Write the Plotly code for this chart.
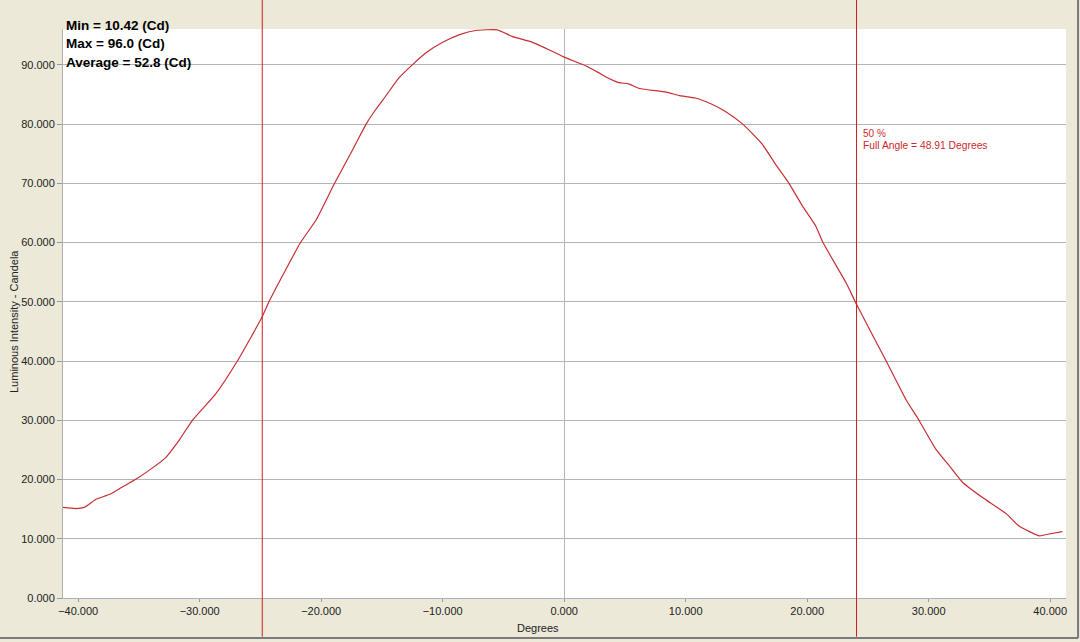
import plotly.graph_objects as go

# Data
degrees = [-41.3, -40.2, -39.5, -38.5, -37.4, -36.4, -35.3, -34.2, -32.8, -31.7,
           -30.6, -28.7, -26.9, -24.9, -24.3, -22.9, -21.7, -20.4, -18.9, -17.4,
           -16.9, -16.3, -15.5, -14.7, -13.6, -12.5, -11.4, -10.0, -8.6, -7.3,
           -5.5, -4.3, -2.6, -1.0, 0.0, 1.8, 2.9, 3.4, 4.5, 5.3, 6.2, 8.4, 9.5,
           10.8, 12.2, 13.3, 14.7, 16.3, 17.4, 18.5, 19.6, 20.7, 21.3, 23.2,
           24.1, 26.5, 28.1, 29.2, 30.6, 31.7, 32.8, 34.4, 36.4, 37.4, 39.1,
           39.9, 41.0]
candela = [15.3, 15.1, 15.3, 16.7, 17.5, 18.7, 20.0, 21.5, 23.7, 26.6,
           30.0, 34.4, 40.0, 47.3, 50.0, 55.5, 60.0, 63.9, 70.0, 75.7,
           77.7, 80.0, 82.5, 84.7, 87.8, 90.0, 92.0, 93.8, 95.1, 95.8,
           95.9, 94.8, 93.8, 92.3, 91.3, 89.8, 88.6, 88.0, 87.0, 86.8, 86.0, 85.4, 84.8,
           84.4, 83.3, 82.1, 80.0, 76.6, 73.2, 70.0, 66.2, 62.8, 60.0, 53.2,
           49.4, 40.0, 33.6, 30.0, 25.1, 22.3, 19.5, 17.0, 14.2, 12.2, 10.5,
           10.8, 11.2]
half_angles = [-24.85, 24.06]
y_ticks = [0, 10, 20, 30, 40, 50, 60, 70, 80, 90]
x_ticks = [-40, -30, -20, -10, 0, 10, 20, 30, 40]
stats = ["Min = 10.42 (Cd)", "Max = 96.0 (Cd)", "Average = 52.8 (Cd)"]

fig = go.Figure()
fig.add_trace(go.Scatter(x=degrees, y=candela, mode="lines",
                         line=dict(color="#C62E33", width=1.2, shape="spline", smoothing=0.5),
                         hoverinfo="x+y", showlegend=False))

font = "Liberation Sans, Arial, sans-serif"
fig.update_layout(
    width=1080, height=642,
    margin=dict(l=63, r=14, t=29, b=44),
    paper_bgcolor="#ECE9D8", plot_bgcolor="#FFFFFF",
    font=dict(family=font, size=11, color="#222222"),
    xaxis=dict(range=[-41.25, 41.3], tickvals=x_ticks, tickformat=".3f",
               showgrid=False, zeroline=True, zerolinecolor="#B4B4B4", zerolinewidth=1,
               ticks="outside", ticklen=3, tickcolor="#999999",
               showline=True, linecolor="#B0B0B0", linewidth=1,
               tickfont=dict(size=11, color="#222222"), automargin=False),
    yaxis=dict(range=[0, 96.05], tickvals=y_ticks, tickformat=".3f",
               showgrid=True, gridcolor="#B4B4B4", gridwidth=1, zeroline=False,
               ticks="outside", ticklen=5, tickcolor="#999999",
               showline=True, linecolor="#B0B0B0", linewidth=1,
               tickfont=dict(size=11, color="#222222"), automargin=False),
)

shapes = []
for a in half_angles:
    shapes.append(dict(type="line", xref="x", yref="paper", x0=a, x1=a,
                       y0=-0.068, y1=1.052, line=dict(color="#CC1F1F", width=1)))
# window-like border
shapes.append(dict(type="line", xref="paper", yref="paper", x0=-0.07, x1=1.012,
                   y0=-0.0705, y1=-0.0705, line=dict(color="#7A7A7A", width=2)))
shapes.append(dict(type="line", xref="paper", yref="paper", x0=1.012, x1=1.012,
                   y0=-0.0705, y1=1.052, line=dict(color="#7A7A7A", width=2)))
fig.update_layout(shapes=shapes)

ann = []
for i, s in enumerate(stats):
    ann.append(dict(text="<b>" + s + "</b>", xref="paper", yref="paper",
                    x=0.0005, y=(598 - (25 + 18.5 * i)) / 569,
                    xanchor="left", yanchor="middle", showarrow=False,
                    font=dict(family=font, size=13.5, color="#000000")))
ann.append(dict(text="50 %", xref="paper", yref="paper", x=(861 - 63) / 1003,
                y=(598 - 133) / 569, xanchor="left", yanchor="middle", showarrow=False,
                font=dict(family=font, size=10, color="#CC2A2A")))
ann.append(dict(text="Full Angle = 48.91 Degrees", xref="paper", yref="paper",
                x=(861 - 63) / 1003, y=(598 - 145.5) / 569, xanchor="left",
                yanchor="middle", showarrow=False,
                font=dict(family=font, size=10.3, color="#CC2A2A")))
ann.append(dict(text="Luminous Intensity - Candela", xref="paper", yref="paper",
                x=(14 - 63) / 1003, y=(598 - 322) / 569, xanchor="center",
                yanchor="middle", textangle=-90, showarrow=False,
                font=dict(family=font, size=11, color="#222222")))
ann.append(dict(text="Degrees", xref="paper", yref="paper",
                x=(538 - 63) / 1003, y=(598 - 628) / 569, xanchor="center",
                yanchor="middle", showarrow=False,
                font=dict(family=font, size=11, color="#222222")))
fig.update_layout(annotations=ann)

fig.write_html("out.html", config={"displayModeBar": False},
               post_script="document.body.style.margin='0';")
